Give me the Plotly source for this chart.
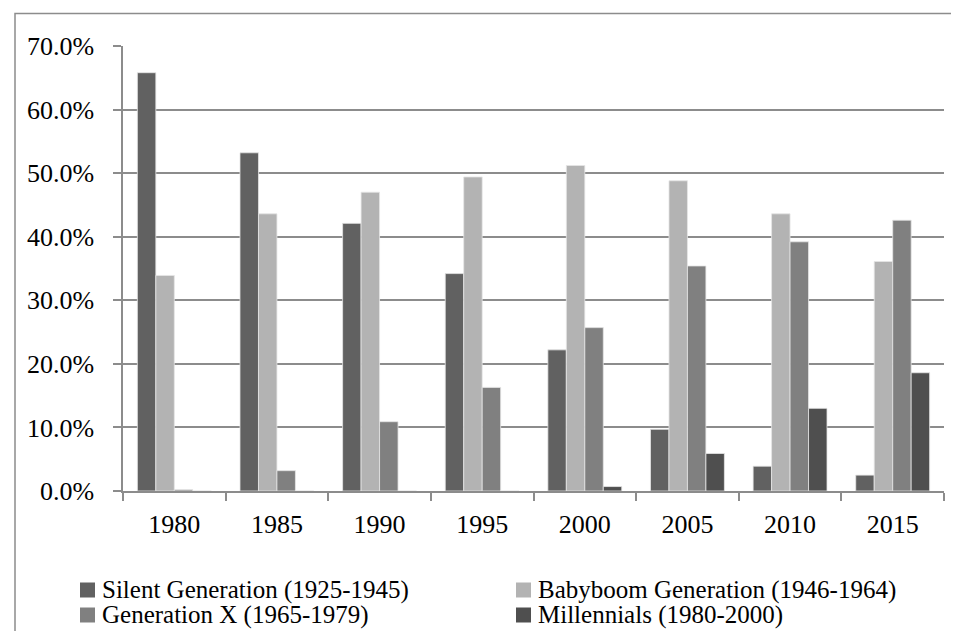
import plotly.graph_objects as go

years = ["1980", "1985", "1990", "1995", "2000", "2005", "2010", "2015"]
series_names = [
    "Silent Generation (1925-1945)",
    "Babyboom Generation (1946-1964)",
    "Generation X (1965-1979)",
    "Millennials (1980-2000)",
]
silent = [65.8, 53.2, 42.1, 34.2, 22.2, 9.7, 3.9, 2.5]
babyboom = [33.9, 43.6, 47.0, 49.4, 51.2, 48.8, 43.6, 36.1]
genx = [0.2, 3.2, 10.9, 16.3, 25.7, 35.4, 39.2, 42.6]
millennials = [0.0, 0.0, 0.0, 0.0, 0.7, 5.9, 13.0, 18.6]
series_values = [silent, babyboom, genx, millennials]
colors = ["#616161", "#b3b3b3", "#808080", "#4f4f4f"]
y_ticks = [0, 10, 20, 30, 40, 50, 60, 70]
y_tick_labels = [f"{v:.1f}%" for v in y_ticks]

FONT = "Liberation Serif"
GRID = "#8c8c8c"

fig = go.Figure()
for name, vals, col in zip(series_names, series_values, colors):
    fig.add_trace(go.Bar(
        x=years, y=vals, name=name,
        marker=dict(color=col, line=dict(color="#e6e6e6", width=0.8)),
        showlegend=False,
    ))

# Legend drawn as squares + text (2 columns x 2 rows)
W = 959 - 115 - 23
H = 631 - 38 - 148
col_x = [93, 529]
row_y = [582, 607]
for i, (name, col) in enumerate(zip(series_names, colors)):
    cx = col_x[i % 2]
    cy = row_y[i // 2]
    fig.add_shape(type="rect", xref="paper", yref="paper",
                  x0=(cx - 21 - 115) / W, x1=(cx - 6 - 115) / W,
                  y0=(483 - (cy + 7.5)) / H, y1=(483 - (cy - 7.5)) / H,
                  fillcolor=col, line=dict(width=0))
    fig.add_annotation(xref="paper", yref="paper",
                       x=(cx - 115) / W, y=(483 - cy) / H,
                       text=name, showarrow=False, xanchor="left", yanchor="middle",
                       borderpad=0,
                       font=dict(family=FONT, size=25, color="#000000"))

# outer chart border (top & left visible)
fig.add_shape(type="rect", xref="paper", yref="paper",
              x0=(7 - 115) / W, x1=(975 - 115) / W,
              y0=(483 - 650) / H, y1=(483 - 5.5) / H,
              line=dict(color="#8c8c8c", width=1.5), fillcolor="rgba(0,0,0,0)",
              layer="below")

fig.update_layout(
    width=959, height=631,
    margin=dict(l=115, r=23, t=38, b=148),
    paper_bgcolor="white", plot_bgcolor="white",
    barmode="group", bargap=0.28, bargroupgap=0,
    font=dict(family=FONT, size=26, color="#000000"),
    xaxis=dict(
        type="category", tickson="boundaries", ticks="outside", ticklen=8,
        tickcolor=GRID, tickwidth=1.5, showgrid=False,
        showline=True, linecolor=GRID, linewidth=1.5,
        tickfont=dict(family=FONT, size=26, color="#000000"), ticklabelstandoff=9,
    ),
    yaxis=dict(
        range=[0, 70], tickvals=y_ticks, ticktext=y_tick_labels,
        ticks="outside", ticklen=8, tickcolor=GRID, tickwidth=1.5,
        showgrid=True, gridcolor=GRID, gridwidth=1.5,
        showline=True, linecolor=GRID, linewidth=1.5, zeroline=False,
        tickfont=dict(family=FONT, size=26, color="#000000"), ticklabelstandoff=14,
    ),
)

fig.write_html("out.html")
